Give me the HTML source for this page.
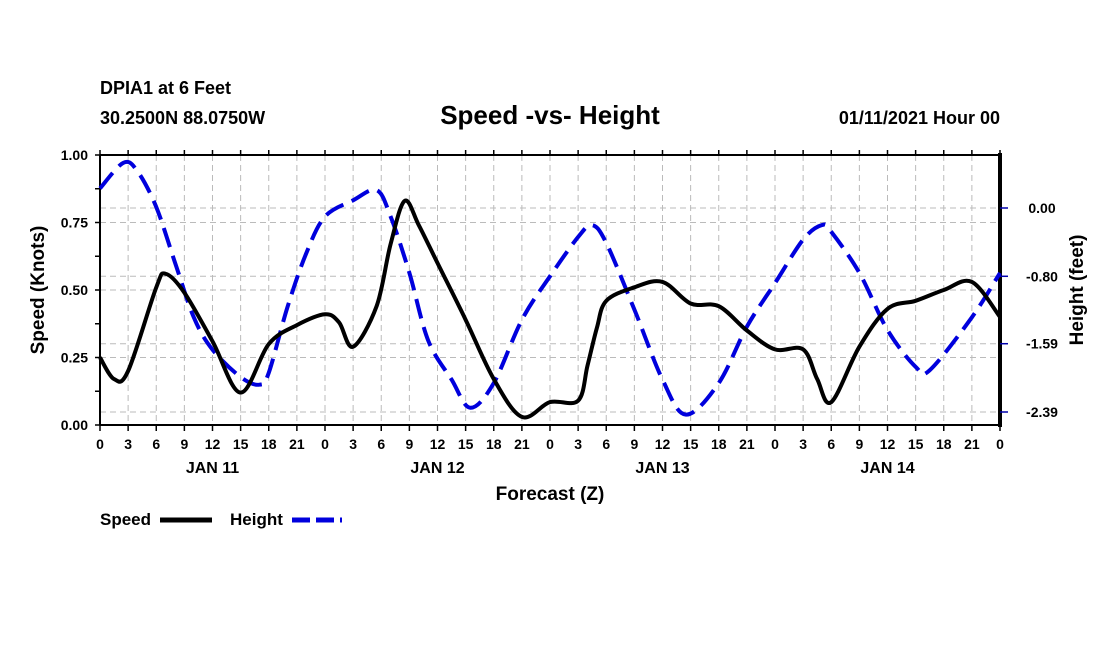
<!DOCTYPE html>
<html><head><meta charset="utf-8"><style>
body{margin:0;background:#fff;width:1100px;height:650px;overflow:hidden}
svg text{font-family:"Liberation Sans",Arial,sans-serif;font-weight:bold;fill:#000}
</style></head><body>
<svg id="chart" width="1100" height="650" viewBox="0 0 1100 650" xmlns="http://www.w3.org/2000/svg">
<text x="100" y="94" font-size="18">DPIA1 at 6 Feet</text>
<text x="100" y="124" font-size="18">30.2500N 88.0750W</text>
<text x="550" y="124" font-size="26" text-anchor="middle">Speed -vs- Height</text>
<text x="1000" y="124" font-size="18" text-anchor="end">01/11/2021 Hour 00</text>
<g id="grid"></g>
<g id="axes"></g>
<g id="series"></g>
<text transform="translate(44,290) rotate(-90)" font-size="19" text-anchor="middle">Speed (Knots)</text>
<text transform="translate(1083,290) rotate(-90)" font-size="19" text-anchor="middle">Height (feet)</text>
<text x="550" y="500" font-size="19" text-anchor="middle">Forecast (Z)</text>
<g>
<text x="100" y="525" font-size="17">Speed</text>
<line x1="160" y1="520" x2="212" y2="520" stroke="#000" stroke-width="5"/>
<text x="230" y="525" font-size="17">Height</text>
<line x1="292" y1="520" x2="342" y2="520" stroke="#0000dd" stroke-width="5" stroke-dasharray="18,6"/>
</g>
</svg>
<script>
const speedHours=[0,1.5,3,6,7,9,12,15,18,21,24,25.5,27,29.5,31,32.5,34,36,39,42,45,48,51,52,53,54,57,60,63,66,69,72,75,76.5,78,81,84,87,90,93,96];
const speedValues=[0.25,0.17,0.20,0.51,0.56,0.49,0.31,0.12,0.30,0.37,0.41,0.38,0.29,0.44,0.67,0.83,0.74,0.60,0.39,0.17,0.03,0.085,0.09,0.22,0.36,0.46,0.51,0.53,0.45,0.44,0.35,0.28,0.28,0.17,0.085,0.29,0.43,0.46,0.50,0.53,0.40];
const heightHours=[0,2.5,4,6,8,10,12,15,17,18,20,22,24,27,29.5,31,33,35,37.5,39.5,42,45,48,51,52.5,54,57,60,62.5,66,69,72,75,77,78,81,84,87,88.5,93,96];
const heightValues=[0.23,0.53,0.43,0.01,-0.64,-1.28,-1.66,-1.98,-2.07,-1.93,-1.16,-0.53,-0.10,0.09,0.21,-0.10,-0.76,-1.55,-2.01,-2.34,-2.05,-1.31,-0.80,-0.34,-0.20,-0.41,-1.19,-2.01,-2.42,-2.05,-1.39,-0.88,-0.37,-0.20,-0.28,-0.76,-1.43,-1.86,-1.90,-1.28,-0.76];
const leftTicks=["0.00","0.25","0.50","0.75","1.00"];
const rightTicks=["0.00","-0.80","-1.59","-2.39"];
const hourLabels=["0","3","6","9","12","15","18","21"];
const dayLabels=["JAN 11","JAN 12","JAN 13","JAN 14"];

const X0=100,X1=1000,Y0=425,Y1=155;
const xs=h=>X0+(X1-X0)*h/96;
const ys=v=>Y0-(Y0-Y1)*v;
const yH=v=>208+(-v)*(204/2.39);
const NS="http://www.w3.org/2000/svg";
function mk(tag,attrs,parent){const e=document.createElementNS(NS,tag);for(const k in attrs)e.setAttribute(k,attrs[k]);parent.appendChild(e);return e;}
const grid=document.getElementById('grid'),axes=document.getElementById('axes'),series=document.getElementById('series');

for(let h=3;h<96;h+=3){const l=mk('line',{x1:xs(h),x2:xs(h),y1:Y1,y2:Y0,stroke:'#bbb','stroke-width':1,'stroke-dasharray':'6,4'},grid);

}
leftTicks.forEach((t,i)=>{const v=parseFloat(t);if(v>0&&v<1){const l=mk('line',{x1:X0,x2:X1,y1:ys(v),y2:ys(v),stroke:'#bbb','stroke-width':1,'stroke-dasharray':'6,4'},grid);

}});
rightTicks.forEach(t=>{const v=parseFloat(t);const l=mk('line',{x1:X0,x2:X1,y1:yH(v),y2:yH(v),stroke:'#bbb','stroke-width':1,'stroke-dasharray':'6,4'},grid);

});

let f=mk('line',{x1:X0,x2:X1,y1:Y1,y2:Y1,stroke:'#000','stroke-width':2},axes);
f=mk('line',{x1:X0,x2:X1,y1:Y0,y2:Y0,stroke:'#000','stroke-width':2},axes);
f=mk('line',{x1:X0,x2:X0,y1:Y1,y2:Y0,stroke:'#000','stroke-width':2},axes);
f=mk('line',{x1:X1,x2:X1,y1:Y1-2,y2:Y0+2,stroke:'#000','stroke-width':4},axes);

for(let v=0;v<=1.0001;v+=0.125){const l=mk('line',{x1:X0-5,x2:X0,y1:ys(v),y2:ys(v),stroke:'#000','stroke-width':1.5},axes);

}
leftTicks.forEach(t=>{const e=mk('text',{x:X0-12,y:ys(parseFloat(t))+5,'font-size':14,'text-anchor':'end'},axes);e.textContent=t;

});
rightTicks.forEach(t=>{const v=parseFloat(t);const l=mk('line',{x1:X1,x2:X1+8,y1:yH(v),y2:yH(v),stroke:'#0000aa','stroke-width':1.5},axes);


const e=mk('text',{x:X1+42,y:yH(v)+5,'font-size':14,'text-anchor':'middle'},axes);e.textContent=t;

});
for(let h=0;h<=96;h+=3){
const a=mk('line',{x1:xs(h),x2:xs(h),y1:Y0,y2:Y0+6,stroke:'#000','stroke-width':1.5},axes);


const b=mk('line',{x1:xs(h),x2:xs(h),y1:Y1-5,y2:Y1,stroke:'#000','stroke-width':1.5},axes);


const e=mk('text',{x:xs(h),y:Y0+24,'font-size':14,'text-anchor':'middle'},axes);e.textContent=hourLabels[(h/3)%8];

}
dayLabels.forEach((d,i)=>{const e=mk('text',{x:xs(i*24+12),y:Y0+48,'font-size':16,'text-anchor':'middle'},axes);e.textContent=d;

});

function smooth(pts){let d=`M${pts[0][0]},${pts[0][1]}`;
for(let i=0;i<pts.length-1;i++){const p0=pts[i-1]||pts[i],p1=pts[i],p2=pts[i+1],p3=pts[i+2]||p2;
const c1=[p1[0]+(p2[0]-p0[0])/6,p1[1]+(p2[1]-p0[1])/6],c2=[p2[0]-(p3[0]-p1[0])/6,p2[1]-(p3[1]-p1[1])/6];
d+=` C${c1[0].toFixed(1)},${c1[1].toFixed(1)} ${c2[0].toFixed(1)},${c2[1].toFixed(1)} ${p2[0].toFixed(1)},${p2[1].toFixed(1)}`;}return d;}
const hp=mk('path',{d:smooth(heightHours.map((h,i)=>[xs(h),yH(heightValues[i])])),fill:'none',stroke:'#0000dd','stroke-width':4,'stroke-dasharray':'20,9'},series);


const sp=mk('path',{d:smooth(speedHours.map((h,i)=>[xs(h),ys(speedValues[i])])),fill:'none',stroke:'#000','stroke-width':4},series);


</script>
</body></html>
